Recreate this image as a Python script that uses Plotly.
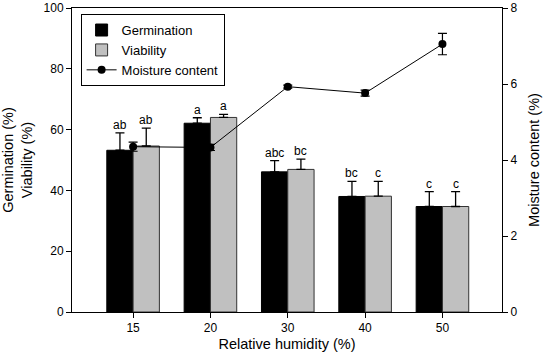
import plotly.graph_objects as go

humidity = ["15", "20", "30", "40", "50"]
germination = [53.2, 62.1, 46.1, 38.0, 34.7]
germination_err = [5.7, 1.8, 3.7, 5.0, 4.9]
viability = [54.6, 64.0, 46.9, 38.1, 34.7]
viability_err = [5.9, 1.0, 3.4, 4.9, 4.9]
germination_letters = ["ab", "a", "abc", "bc", "c"]
viability_letters = ["ab", "a", "bc", "c", "c"]
moisture = [4.35, 4.33, 5.93, 5.76, 7.05]
moisture_err = [0.12, 0.08, 0.04, 0.08, 0.28]

FONT = "Liberation Sans, Arial, sans-serif"
x = list(range(len(humidity)))

fig = go.Figure()
fig.add_trace(go.Bar(
    x=x, y=germination, name="Germination",
    marker=dict(color="black", line=dict(color="black", width=1)),
    error_y=dict(type="data", array=germination_err, arrayminus=[0]*5, symmetric=False,
                 color="black", thickness=1.3, width=4.5),
    offsetgroup="g",
))
fig.add_trace(go.Bar(
    x=x, y=viability, name="Viability",
    marker=dict(color="#c0c0c0", line=dict(color="#333333", width=1)),
    error_y=dict(type="data", array=viability_err, arrayminus=[0]*5, symmetric=False,
                 color="black", thickness=1.3, width=4.5),
    offsetgroup="v",
))
fig.add_trace(go.Scatter(
    x=x, y=moisture, name="Moisture content", yaxis="y2",
    mode="lines+markers",
    line=dict(color="black", width=1),
    marker=dict(color="black", size=8),
    error_y=dict(type="data", array=moisture_err, color="black", thickness=1.2, width=4.5),
))

annotations = []
for i in range(len(humidity)):
    annotations.append(dict(x=i - 0.17, y=germination[i] + germination_err[i], xref="x", yref="y",
                            text=germination_letters[i], showarrow=False, yanchor="bottom",
                            yshift=-1, font=dict(family=FONT, size=12, color="black")))
    annotations.append(dict(x=i + 0.17, y=viability[i] + viability_err[i], xref="x", yref="y",
                            text=viability_letters[i], showarrow=False, yanchor="bottom",
                            yshift=-1, font=dict(family=FONT, size=12, color="black")))

fig.update_layout(
    width=550, height=354,
    margin=dict(l=72, r=48, t=8, b=42, autoexpand=False),
    paper_bgcolor="white", plot_bgcolor="white",
    font=dict(family=FONT, size=12, color="black"),
    barmode="group", bargap=0.32, bargroupgap=0,
    showlegend=True,
    legend=dict(x=0.02, y=0.98, xanchor="left", yanchor="top",
                bordercolor="black", borderwidth=1, bgcolor="white",
                font=dict(family=FONT, size=13), tracegroupgap=0),
    xaxis=dict(range=[-0.79, 4.77], tickmode="array", tickvals=x, ticktext=humidity,
               showline=True, linecolor="black", linewidth=1, mirror=True, automargin=False,
               ticks="outside", ticklen=5, tickcolor="black", showgrid=False, zeroline=False,
               tickfont=dict(size=12),
               title=dict(text="Relative humidity (%)", font=dict(size=14.5), standoff=4)),
    yaxis=dict(range=[0, 100], tickvals=[0, 20, 40, 60, 80, 100], automargin=False,
               showline=True, linecolor="black", linewidth=1,
               ticks="outside", ticklen=5, tickcolor="black", showgrid=False, zeroline=False,
               tickfont=dict(size=12),
               title=dict(text="Germination (%)<br>Viability (%)", font=dict(size=14.5), standoff=8)),
    yaxis2=dict(range=[0, 8], tickvals=[0, 2, 4, 6, 8], overlaying="y", side="right",
                showline=True, linecolor="black", linewidth=1, automargin=False,
                ticks="outside", ticklen=5, tickcolor="black", showgrid=False, zeroline=False,
                tickfont=dict(size=12),
                title=dict(text="Moisture content (%)", font=dict(size=14.5), standoff=12)),
    annotations=annotations,
)

fig.write_html("out.html", config={"displayModeBar": False},
               post_script="document.body.style.margin='0';document.body.style.overflow='hidden';")
